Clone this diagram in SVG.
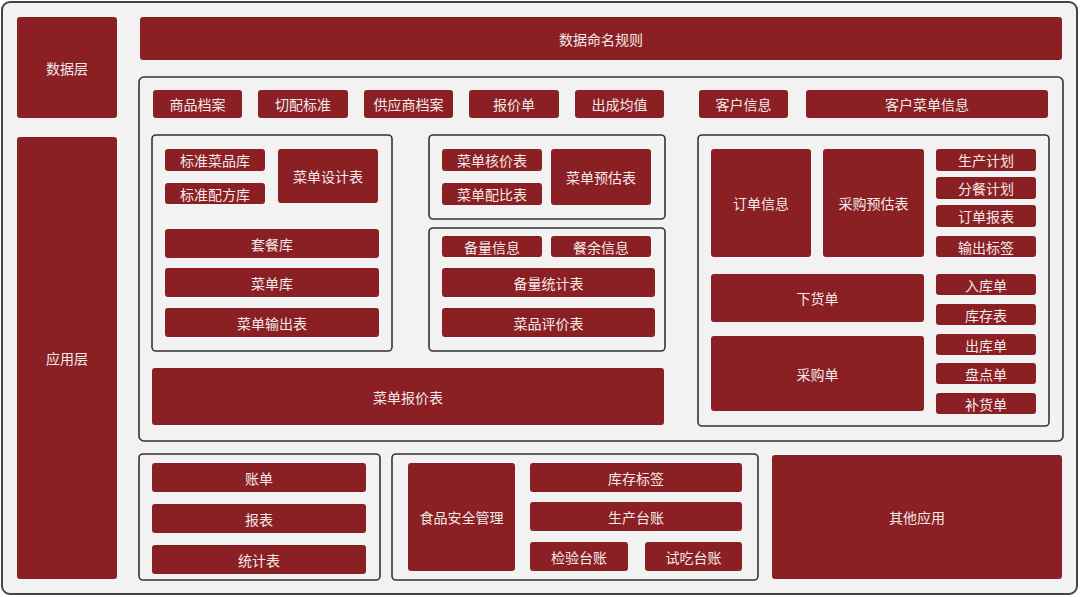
<svg xmlns="http://www.w3.org/2000/svg" width="1080" height="597" viewBox="0 0 1080 597">
<style>
.n rect{fill:#8a2024;}
.n text,.t{fill:#f4e8e8;font-family:"Noto Sans CJK SC","Noto Sans",sans-serif;font-size:14px;text-anchor:middle;dominant-baseline:central;}
.box{fill:#f2f2f2;stroke:#333;stroke-width:1.6;}
</style>
<rect x="2" y="2" width="1075" height="592" rx="8" fill="#f2f2f2" stroke="#444" stroke-width="2"/>
<g id="containers">
<rect class="box" x="139" y="77" width="924" height="364" rx="5"/>
<rect class="box" x="152" y="135" width="240" height="216" rx="4"/>
<rect class="box" x="429" y="135" width="236" height="84" rx="4"/>
<rect class="box" x="429" y="228" width="236" height="123" rx="4"/>
<rect class="box" x="698" y="135" width="351" height="291" rx="4"/>
<rect class="box" x="139" y="454" width="241" height="126" rx="4"/>
<rect class="box" x="392" y="454" width="366" height="126" rx="4"/>
</g>
<g id="connectors"></g>
<g id="n-shujuceng" class="n"><rect x="17" y="17" width="100" height="101" rx="3"/><text x="67" y="68">数据层</text></g>
<g id="n-yingyongceng" class="n"><rect x="17" y="137" width="100" height="442" rx="3"/><text x="67" y="358">应用层</text></g>
<g id="n-mingming" class="n"><rect x="140" y="17" width="922" height="43" rx="3"/><text x="601" y="39">数据命名规则</text></g>
<g id="n-shangpin" class="n"><rect x="153" y="90" width="89" height="28" rx="3"/><text x="197.5" y="104">商品档案</text></g>
<g id="n-qiepei" class="n"><rect x="258" y="90" width="90" height="28" rx="3"/><text x="303" y="104">切配标准</text></g>
<g id="n-gongying" class="n"><rect x="364" y="90" width="89" height="28" rx="3"/><text x="408.5" y="104">供应商档案</text></g>
<g id="n-baojiadan" class="n"><rect x="469" y="90" width="90" height="28" rx="3"/><text x="514" y="104">报价单</text></g>
<g id="n-chucheng" class="n"><rect x="575" y="90" width="89" height="28" rx="3"/><text x="619.5" y="104">出成均值</text></g>
<g id="n-kehu" class="n"><rect x="699" y="90" width="89" height="28" rx="3"/><text x="743.5" y="104">客户信息</text></g>
<g id="n-kehucaidan" class="n"><rect x="806" y="90" width="242" height="28" rx="3"/><text x="927" y="104">客户菜单信息</text></g>
<g id="n-biaozhuncaipin" class="n"><rect x="165" y="149" width="100" height="22" rx="3"/><text x="215" y="160">标准菜品库</text></g>
<g id="n-biaozhunpeifang" class="n"><rect x="165" y="183" width="100" height="21" rx="3"/><text x="215" y="193.5">标准配方库</text></g>
<g id="n-caidansheji" class="n"><rect x="278" y="149" width="100" height="54" rx="3"/><text x="328" y="176">菜单设计表</text></g>
<g id="n-taocan" class="n"><rect x="165" y="229" width="214" height="29" rx="3"/><text x="272" y="243.5">套餐库</text></g>
<g id="n-caidanku" class="n"><rect x="165" y="268" width="214" height="29" rx="3"/><text x="272" y="282.5">菜单库</text></g>
<g id="n-shuchu" class="n"><rect x="165" y="308" width="214" height="29" rx="3"/><text x="272" y="322.5">菜单输出表</text></g>
<g id="n-baojiabiao" class="n"><rect x="152" y="368" width="512" height="57" rx="3"/><text x="408" y="396.5">菜单报价表</text></g>
<g id="n-hejia" class="n"><rect x="442" y="149" width="100" height="22" rx="3"/><text x="492" y="160">菜单核价表</text></g>
<g id="n-peibi" class="n"><rect x="442" y="183" width="100" height="22" rx="3"/><text x="492" y="194">菜单配比表</text></g>
<g id="n-yugu" class="n"><rect x="551" y="149" width="100" height="56" rx="3"/><text x="601" y="177">菜单预估表</text></g>
<g id="n-beiliang" class="n"><rect x="442" y="236" width="100" height="21" rx="3"/><text x="492" y="246.5">备量信息</text></g>
<g id="n-canyu" class="n"><rect x="551" y="236" width="100" height="21" rx="3"/><text x="601" y="246.5">餐余信息</text></g>
<g id="n-tongji" class="n"><rect x="442" y="268" width="213" height="29" rx="3"/><text x="548.5" y="282.5">备量统计表</text></g>
<g id="n-pingjia" class="n"><rect x="442" y="308" width="213" height="29" rx="3"/><text x="548.5" y="322.5">菜品评价表</text></g>
<g id="n-dingdan" class="n"><rect x="711" y="149" width="100" height="108" rx="3"/><text x="761" y="203">订单信息</text></g>
<g id="n-caigouyugu" class="n"><rect x="823" y="149" width="101" height="108" rx="3"/><text x="873.5" y="203">采购预估表</text></g>
<g id="n-shengchan" class="n"><rect x="936" y="149" width="100" height="22" rx="3"/><text x="986" y="160">生产计划</text></g>
<g id="n-fencan" class="n"><rect x="936" y="177" width="100" height="22" rx="3"/><text x="986" y="188">分餐计划</text></g>
<g id="n-dingdanbaobiao" class="n"><rect x="936" y="205" width="100" height="22" rx="3"/><text x="986" y="216">订单报表</text></g>
<g id="n-shuchubiaoqian" class="n"><rect x="936" y="236" width="100" height="21" rx="3"/><text x="986" y="246.5">输出标签</text></g>
<g id="n-xiahuo" class="n"><rect x="711" y="274" width="213" height="48" rx="3"/><text x="817.5" y="298">下货单</text></g>
<g id="n-caigou" class="n"><rect x="711" y="336" width="213" height="75" rx="3"/><text x="817.5" y="373.5">采购单</text></g>
<g id="n-ruku" class="n"><rect x="936" y="274" width="100" height="21" rx="3"/><text x="986" y="284.5">入库单</text></g>
<g id="n-kucun" class="n"><rect x="936" y="304" width="100" height="21" rx="3"/><text x="986" y="314.5">库存表</text></g>
<g id="n-chuku" class="n"><rect x="936" y="334" width="100" height="21" rx="3"/><text x="986" y="344.5">出库单</text></g>
<g id="n-pandian" class="n"><rect x="936" y="363" width="100" height="21" rx="3"/><text x="986" y="373.5">盘点单</text></g>
<g id="n-buhuo" class="n"><rect x="936" y="393" width="100" height="21" rx="3"/><text x="986" y="403.5">补货单</text></g>
<g id="n-zhangdan" class="n"><rect x="152" y="463" width="214" height="29" rx="3"/><text x="259" y="477.5">账单</text></g>
<g id="n-baobiao" class="n"><rect x="152" y="504" width="214" height="29" rx="3"/><text x="259" y="518.5">报表</text></g>
<g id="n-tongjibiao" class="n"><rect x="152" y="545" width="214" height="29" rx="3"/><text x="259" y="559.5">统计表</text></g>
<g id="n-shipin" class="n"><rect x="408" y="463" width="107" height="108" rx="3"/><text x="461.5" y="517">食品安全管理</text></g>
<g id="n-kucunbiaoqian" class="n"><rect x="530" y="463" width="212" height="29" rx="3"/><text x="636" y="477.5">库存标签</text></g>
<g id="n-shengchantaizhang" class="n"><rect x="530" y="502" width="212" height="29" rx="3"/><text x="636" y="516.5">生产台账</text></g>
<g id="n-jianyan" class="n"><rect x="530" y="542" width="98" height="29" rx="3"/><text x="579" y="556.5">检验台账</text></g>
<g id="n-shichi" class="n"><rect x="645" y="542" width="97" height="29" rx="3"/><text x="693.5" y="556.5">试吃台账</text></g>
<g id="n-qita" class="n"><rect x="772" y="455" width="290" height="124" rx="3"/><text x="917" y="517">其他应用</text></g>
</svg>
